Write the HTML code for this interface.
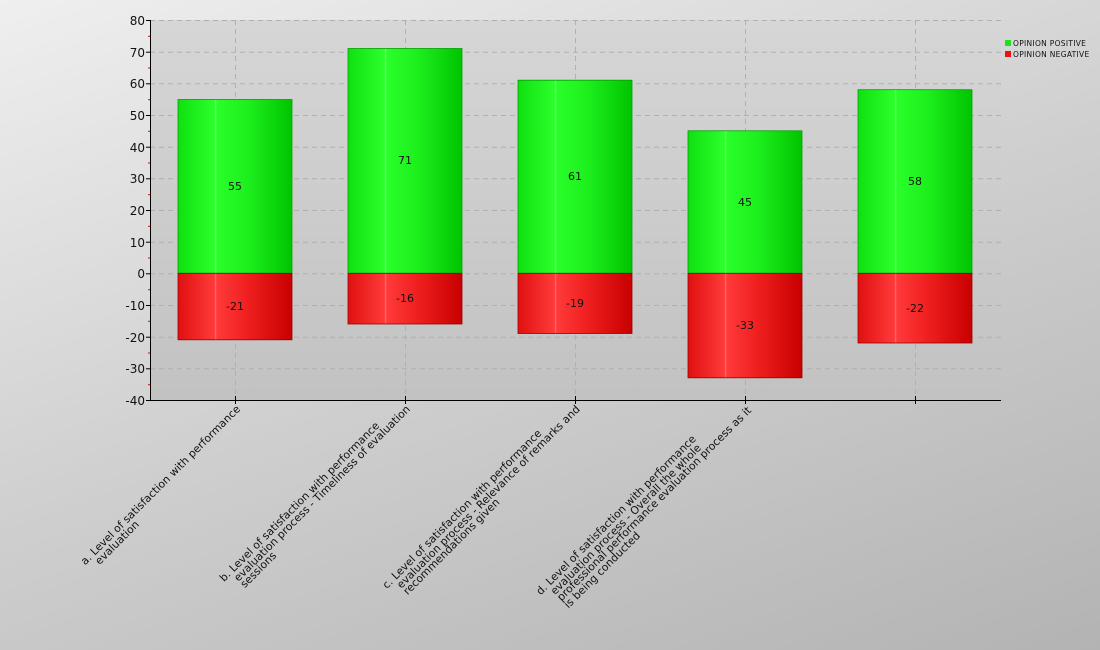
<!DOCTYPE html>
<html><head><style>
body{margin:0;width:1100px;height:650px;overflow:hidden;background:linear-gradient(160deg,#efefef 0%,#cfcfcf 50%,#b3b3b3 100%);font-family:"DejaVu Sans","Liberation Sans",sans-serif;position:relative}
.lbl{position:absolute;top:404px;transform:rotate(-45deg);transform-origin:100% 0;white-space:pre;font-size:10.8px;line-height:9.5px;color:#111;text-align:left}
</style></head><body>
<svg width="1100" height="650" style="position:absolute;left:0;top:0" font-family="DejaVu Sans, Liberation Sans, sans-serif">
<defs>
<linearGradient id="pa" x1="0" y1="0" x2="0" y2="1"><stop offset="0" stop-color="#d6d6d6"/><stop offset="1" stop-color="#c2c2c2"/></linearGradient>
<linearGradient id="g" x1="0" y1="0" x2="1" y2="0"><stop offset="0" stop-color="#10e010"/><stop offset="0.32" stop-color="#2cff2c"/><stop offset="0.33" stop-color="#66ff66"/><stop offset="0.34" stop-color="#2aff2a"/><stop offset="0.6" stop-color="#1ef01e"/><stop offset="1" stop-color="#00c400"/></linearGradient>
<linearGradient id="r" x1="0" y1="0" x2="1" y2="0"><stop offset="0" stop-color="#e01010"/><stop offset="0.32" stop-color="#ff3a3a"/><stop offset="0.33" stop-color="#ff7070"/><stop offset="0.34" stop-color="#ff3a3a"/><stop offset="0.6" stop-color="#f02020"/><stop offset="1" stop-color="#c80000"/></linearGradient>
</defs>
<rect x="150" y="20" width="851" height="380" fill="url(#pa)"/>
<g stroke="#b0b0b0" stroke-dasharray="5,4" stroke-width="1">
<line x1="150" x2="1001" y1="20.5" y2="20.5"/><line x1="150" x2="1001" y1="52.2" y2="52.2"/><line x1="150" x2="1001" y1="83.8" y2="83.8"/><line x1="150" x2="1001" y1="115.5" y2="115.5"/><line x1="150" x2="1001" y1="147.2" y2="147.2"/><line x1="150" x2="1001" y1="178.8" y2="178.8"/><line x1="150" x2="1001" y1="210.5" y2="210.5"/><line x1="150" x2="1001" y1="242.2" y2="242.2"/><line x1="150" x2="1001" y1="273.8" y2="273.8"/><line x1="150" x2="1001" y1="305.5" y2="305.5"/><line x1="150" x2="1001" y1="337.2" y2="337.2"/><line x1="150" x2="1001" y1="368.8" y2="368.8"/>
<line x1="235.5" x2="235.5" y1="20" y2="400"/><line x1="405.5" x2="405.5" y1="20" y2="400"/><line x1="575.5" x2="575.5" y1="20" y2="400"/><line x1="745.5" x2="745.5" y1="20" y2="400"/><line x1="915.5" x2="915.5" y1="20" y2="400"/>
</g>
<g stroke-width="1">
<rect x="178" y="99.5" width="114" height="173.8" fill="url(#g)" stroke="#00a000" stroke-width="0.8"/>
<rect x="178" y="273.3" width="114" height="66.5" fill="url(#r)" stroke="#900" stroke-width="0.8"/>
<rect x="348" y="48.5" width="114" height="224.8" fill="url(#g)" stroke="#00a000" stroke-width="0.8"/>
<rect x="348" y="273.3" width="114" height="50.7" fill="url(#r)" stroke="#900" stroke-width="0.8"/>
<rect x="518" y="80.2" width="114" height="193.1" fill="url(#g)" stroke="#00a000" stroke-width="0.8"/>
<rect x="518" y="273.3" width="114" height="60.2" fill="url(#r)" stroke="#900" stroke-width="0.8"/>
<rect x="688" y="130.8" width="114" height="142.5" fill="url(#g)" stroke="#00a000" stroke-width="0.8"/>
<rect x="688" y="273.3" width="114" height="104.5" fill="url(#r)" stroke="#900" stroke-width="0.8"/>
<rect x="858" y="89.7" width="114" height="183.6" fill="url(#g)" stroke="#00a000" stroke-width="0.8"/>
<rect x="858" y="273.3" width="114" height="69.7" fill="url(#r)" stroke="#900" stroke-width="0.8"/>
</g>
<g font-size="11" fill="#111" text-anchor="middle">
<text x="235" y="190">55</text><text x="235" y="310">-21</text>
<text x="405" y="164">71</text><text x="405" y="302">-16</text>
<text x="575" y="180">61</text><text x="575" y="307">-19</text>
<text x="745" y="206">45</text><text x="745" y="329">-33</text>
<text x="915" y="185">58</text><text x="915" y="312">-22</text>
</g>
<g stroke="#000" stroke-width="1">
<line x1="150.5" y1="20" x2="150.5" y2="400"/>
<line x1="150" y1="400.5" x2="1001" y2="400.5"/>
<line x1="235.5" y1="396" x2="235.5" y2="404"/><line x1="405.5" y1="396" x2="405.5" y2="404"/><line x1="575.5" y1="396" x2="575.5" y2="404"/><line x1="745.5" y1="396" x2="745.5" y2="404"/><line x1="915.5" y1="396" x2="915.5" y2="404"/>
<line x1="146" x2="150" y1="20.5" y2="20.5"/><line x1="146" x2="150" y1="52.2" y2="52.2"/><line x1="146" x2="150" y1="83.8" y2="83.8"/><line x1="146" x2="150" y1="115.5" y2="115.5"/><line x1="146" x2="150" y1="147.2" y2="147.2"/><line x1="146" x2="150" y1="178.8" y2="178.8"/><line x1="146" x2="150" y1="210.5" y2="210.5"/><line x1="146" x2="150" y1="242.2" y2="242.2"/><line x1="146" x2="150" y1="273.8" y2="273.8"/><line x1="146" x2="150" y1="305.5" y2="305.5"/><line x1="146" x2="150" y1="337.2" y2="337.2"/><line x1="146" x2="150" y1="368.8" y2="368.8"/><line x1="146" x2="150" y1="400.5" y2="400.5"/>
</g>
<g stroke="#e00" stroke-width="1">
<line x1="148" x2="150" y1="36.3" y2="36.3"/><line x1="148" x2="150" y1="68" y2="68"/><line x1="148" x2="150" y1="99.7" y2="99.7"/><line x1="148" x2="150" y1="131.3" y2="131.3"/><line x1="148" x2="150" y1="163" y2="163"/><line x1="148" x2="150" y1="194.7" y2="194.7"/><line x1="148" x2="150" y1="226.3" y2="226.3"/><line x1="148" x2="150" y1="258" y2="258"/><line x1="148" x2="150" y1="289.7" y2="289.7"/><line x1="148" x2="150" y1="321.3" y2="321.3"/><line x1="148" x2="150" y1="353" y2="353"/><line x1="148" x2="150" y1="384.7" y2="384.7"/>
</g>
<g font-size="12" fill="#111" text-anchor="end">
<text x="145" y="25">80</text><text x="145" y="57">70</text><text x="145" y="88">60</text><text x="145" y="120">50</text><text x="145" y="152">40</text><text x="145" y="183">30</text><text x="145" y="215">20</text><text x="145" y="247">10</text><text x="145" y="278">0</text><text x="145" y="310">-10</text><text x="145" y="342">-20</text><text x="145" y="373">-30</text><text x="145" y="405">-40</text>
</g>
<rect x="1005" y="40" width="6" height="6" fill="#1ee01e"/>
<rect x="1005" y="51" width="6" height="6" fill="#ee1111"/>
<g font-size="7.5" fill="#111" letter-spacing="0.3"><text x="1013" y="46">OPINION POSITIVE</text><text x="1013" y="57">OPINION NEGATIVE</text></g>
</svg>
<div class="lbl" style="right:865px">a. Level of satisfaction with performance
   evaluation</div>
<div class="lbl" style="right:702px;top:397px">b. Level of satisfaction with performance
   evaluation process - Timeliness of evaluation
   sessions</div>
<div class="lbl" style="right:532px;top:397px">c. Level of satisfaction with performance
   evaluation process - Relevance of remarks and
   recommendations given</div>
<div class="lbl" style="right:367px;top:392px">d. Level of satisfaction with performance
   evaluation process - Overall the whole
   professional performance evaluation process as it
   is being conducted</div>
</body></html>
